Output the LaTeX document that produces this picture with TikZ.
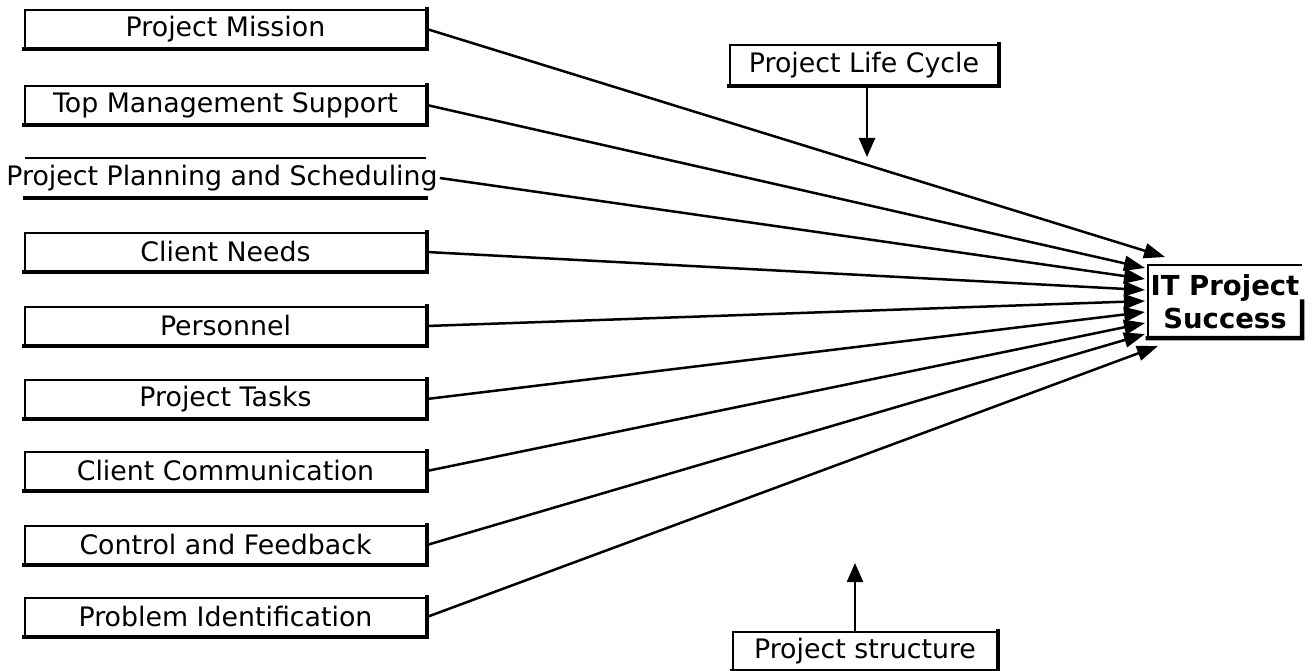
\documentclass[tikz,border=0pt]{standalone}
\usepackage{fontspec}
\setmainfont{DejaVu Sans}
\usetikzlibrary{arrows.meta,calc}
\begin{document}
\begin{tikzpicture}[x=1pt,y=-1pt,
  labelfont/.style={font=\fontsize{26.8}{31}\selectfont},
  factor/.style={draw, line width=1.6pt, minimum width=401pt, minimum height=38pt,
                 inner sep=0pt, labelfont},
  edgeline/.style={line width=1.6pt},
  shadowline/.style={line width=4.5pt, line cap=rect, line join=miter},
  link/.style={line width=2.5pt, -{Triangle[length=21pt,width=15pt]}},
]
\useasboundingbox (0,0) rectangle (1312,671);

% success factors on the left
\node[factor] (pm)  at (225.5,29)  {Project Mission};
\node[factor] (tms) at (225.5,105) {Top Management Support};
\node[labelfont, inner sep=2pt] (pps) at (222,178) {Project Planning and Scheduling};
\node[factor] (cn)  at (225.5,252) {Client Needs};
\node[factor] (per) at (225.5,326) {Personnel};
\node[factor] (pt)  at (225.5,399) {Project Tasks};
\node[factor] (cc)  at (225.5,471) {Client Communication};
\node[factor] (cf)  at (225.5,545) {Control and Feedback};
\node[factor] (pi)  at (225.5,617) {Problem Identification};

% the planning box only has its top and bottom rules
\coordinate (ppsTL) at (25,158);
\coordinate (ppsTR) at (426,158);
\coordinate (ppsBL) at (25,198);
\coordinate (ppsBR) at (426,198);
\draw[edgeline] (ppsTL) -- (ppsTR);
\draw[shadowline] (ppsBL) -- (ppsBR);

% moderating boxes
\node[factor, minimum width=268pt, minimum height=40pt] (plc) at (864,65) {Project Life Cycle};
\node[factor, minimum width=264pt, minimum height=38pt] (ps) at (865,651) {Project structure};

% outcome
\node[minimum width=154pt, minimum height=73pt, inner sep=0pt, align=center,
      font=\fontsize{27.5}{33}\selectfont\bfseries] (it) at (1225,301.5) {IT Project\\Success};
\draw[edgeline] (it.south west) -- (it.north west) -- (it.north east);
\draw[shadowline] (it.south west) -- (it.south east) -- ($(it.north east)!0.5!(it.south east)$);

% drop shadows on bottom and right edges
\foreach \n in {pm,tms,cn,per,pt,cc,cf,pi,plc,ps}
  \draw[shadowline] (\n.south west) -- (\n.south east) -- (\n.north east);

% arrow tips along the left side of the outcome box
\coordinate (t1) at (1165,257);
\coordinate (t2) at (1145,268);
\coordinate (t3) at (1145,279);
\coordinate (t4) at (1145,290);
\coordinate (t5) at (1145,301);
\coordinate (t6) at (1145,312);
\coordinate (t7) at (1145,323);
\coordinate (t8) at (1145,334);
\coordinate (t9) at (1158,346);

\draw[link] (pm.east)  -- (t1);
\draw[link] (tms.east) -- (t2);
\draw[link] (pps.east) -- (t3);
\draw[link] (cn.east)  -- (t4);
\draw[link] (per.east) -- (t5);
\draw[link] (pt.east)  -- (t6);
\draw[link] (cc.east)  -- (t7);
\draw[link] (cf.east)  -- (t8);
\draw[link] (pi.east)  -- (t9);

% moderator arrows
\coordinate (plcTip) at (867,157);
\coordinate (psTip) at (855,563);
\draw[line width=2.5pt, -{Triangle[length=19pt,width=16pt]}] (plc.south -| plcTip) -- (plcTip);
\draw[line width=2.5pt, -{Triangle[length=19pt,width=16pt]}] (ps.north -| psTip) -- (psTip);
\end{tikzpicture}
\end{document}
